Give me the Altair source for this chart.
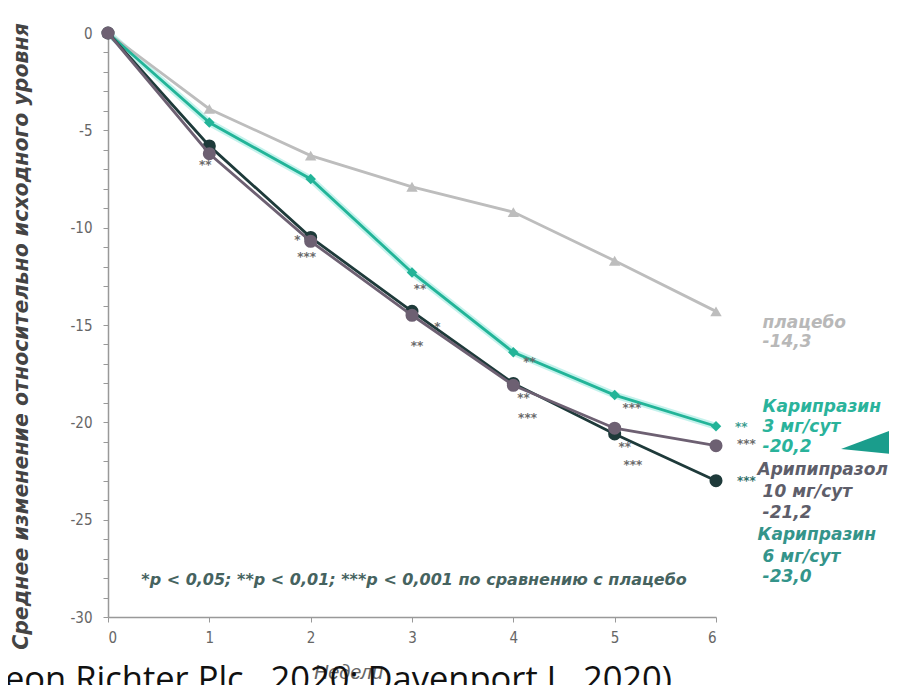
import altair as alt
import pandas as pd

# ---------------- data ----------------
weeks = [0, 1, 2, 3, 4, 5, 6]
placebo = [0, -3.9, -6.3, -7.9, -9.2, -11.7, -14.3]
carip3 = [0, -4.6, -7.5, -12.3, -16.4, -18.6, -20.2]
carip6 = [0, -5.8, -10.5, -14.3, -18.0, -20.6, -23.0]
aripip10 = [0, -6.2, -10.7, -14.5, -18.1, -20.3, -21.2]

series_names = ["плацебо", "Карипразин 3 мг/сут", "Карипразин 6 мг/сут", "Арипипразол 10 мг/сут"]
series_values = [placebo, carip3, carip6, aripip10]
series_colors = ["#bdbdbd", "#22b498", "#1e3a3a", "#6d6072"]
series_shapes = ["triangle-up", "diamond", "circle", "circle"]
series_sizes = [130, 110, 170, 170]

# significance marks
ast_x = [0.96, 1.87, 1.96, 3.08, 3.25, 3.05, 4.16, 4.10, 4.14, 5.17, 5.10, 5.18, 6.25, 6.30, 6.30]
ast_y = [-6.78, -10.63, -11.5, -13.15, -15.1, -16.08, -16.9, -18.75, -19.77,
         -19.26, -21.26, -22.19, -20.24, -21.1, -23.0]
ast_text = ["**", "*", "***", "**", "*", "**", "**", "**", "***", "***", "**", "***", "**", "***", "***"]
ast_color = ["#6a6a6a"] * 12 + ["#3a9d90", "#6a6a6a", "#2f6e68"]

# end labels
lab_x = [6.46, 6.46, 6.46, 6.46, 6.46, 6.41, 6.46, 6.46, 6.41, 6.46, 6.46]
lab_y = [-14.9, -15.87, -19.21, -20.24, -21.26, -22.44, -23.57, -24.65, -25.78, -26.91, -27.94]
lab_text = ["плацебо", "-14,3", "Карипразин", "3 мг/сут", "-20,2", "Арипипразол", "10 мг/сут", "-21,2",
            "Карипразин", "6 мг/сут", "-23,0"]
lab_color = ["#b8b8b8", "#b8b8b8", "#2ab39b", "#2ab39b", "#2ab39b", "#5e5e6a", "#5e5e6a", "#5e5e6a",
             "#34948a", "#34948a", "#34948a"]

footnote_text = ["*p < 0,05; **p < 0,01; ***p < 0,001 по сравнению с плацебо"]
footnote_x = [3.02]
footnote_y = [-28.1]

arrow_x = [7.53]
arrow_y = [-21.37]

citation = "(Gedeon Richter Plc., 2020; Davenport J., 2020)"

# ---------------- build ----------------
xs = alt.Scale(domain=[0, 6], nice=False)
ys = alt.Scale(domain=[-30, 0], nice=False)

label_font = "Liberation Sans Narrow, DejaVu Sans Condensed, Liberation Sans, sans-serif"

x_axis = alt.Axis(values=weeks, labelFont=label_font, labelFontSize=15, labelColor="#666666",
                  tickColor="#999999", domainColor="#999999", domainWidth=1.5, tickSize=5,
                  grid=False, labelPadding=8,
                  titleFont="Liberation Sans", titleFontStyle="italic",
                  titleFontWeight="normal", titleFontSize=20, titleColor="#666666",
                  titleX=240, titleY=55, titleBaseline="middle")
y_axis = alt.Axis(values=list(range(-30, 1)),
                  labelExpr="datum.value % 5 == 0 ? '' + datum.value : ''",
                  labelFont=label_font, labelFontSize=15, labelColor="#666666",
                  tickColor="#999999", domainColor="#999999", domainWidth=1.5, tickSize=5,
                  grid=False, labelPadding=11,
                  titleFont="DejaVu Sans", titleFontStyle="italic", titleFontWeight="bold",
                  titleFontSize=20.5, titleColor="#444444",
                  titleX=-87, titleY=303, titleAngle=270, titleBaseline="middle", titleAlign="center")

X = alt.X("week:Q", scale=xs, axis=x_axis, title="Недели")
Y = alt.Y("val:Q", scale=ys, axis=y_axis, title="Среднее изменение относительно исходного уровня")

layers = []

# teal halo
halo_df = pd.DataFrame({"week": weeks, "val": carip3})
layers.append(
    alt.Chart(halo_df).mark_line(color="#b5efe7", strokeWidth=7, opacity=0.8).encode(x=X, y=Y)
)

for name, vals, col, shp, sz in zip(series_names, series_values, series_colors, series_shapes, series_sizes):
    df = pd.DataFrame({"week": weeks, "val": vals, "series": name})
    layers.append(alt.Chart(df).mark_line(color=col, strokeWidth=2.8).encode(x=X, y=Y))
    layers.append(
        alt.Chart(df).mark_point(color=col, filled=True, opacity=1, shape=shp, size=sz).encode(x=X, y=Y)
    )

ast_df = pd.DataFrame({"week": ast_x, "val": ast_y, "t": ast_text, "c": ast_color})
layers.append(
    alt.Chart(ast_df).mark_text(font="DejaVu Sans", fontSize=12, fontWeight="bold",
                                align="center", baseline="middle").encode(
        x=X, y=Y, text="t:N", color=alt.Color("c:N", scale=None)
    )
)

lab_df = pd.DataFrame({"week": lab_x, "val": lab_y, "t": lab_text, "c": lab_color})
layers.append(
    alt.Chart(lab_df).mark_text(font="DejaVu Sans", fontSize=17, fontWeight="bold", fontStyle="italic",
                                align="left", baseline="middle").encode(
        x=X, y=Y, text="t:N", color=alt.Color("c:N", scale=None)
    )
)

foot_df = pd.DataFrame({"week": footnote_x, "val": footnote_y, "t": footnote_text})
layers.append(
    alt.Chart(foot_df).mark_text(font="DejaVu Sans", fontSize=16, fontStyle="italic", fontWeight="bold",
                                 color="#46635f", align="center", baseline="middle").encode(
        x=X, y=Y, text="t:N"
    )
)

arrow_df = pd.DataFrame({"week": arrow_x, "val": arrow_y})
layers.append(
    alt.Chart(arrow_df).mark_point(shape="M-1,0 L1,-0.75 L1,0.2 Z", size=3600, filled=True,
                                   color="#1a9d8c", opacity=1).encode(x=X, y=Y)
)

cit_df = pd.DataFrame({"t": [citation]})
layers.append(
    alt.Chart(cit_df).mark_text(font="Open Sans", fontSize=34.5, color="#111111",
                                align="right", baseline="alphabetic").encode(
        x=alt.value(564), y=alt.value(658), text="t:N"
    )
)

chart = alt.layer(*layers).properties(
    width=608, height=584,
    autosize=alt.AutoSizeParams(type="none"),
    padding={"left": 100, "top": 25, "right": 173, "bottom": 68},
).configure_view(stroke=None)

chart.save("out.html", embed_options={"renderer": "svg", "actions": False})
